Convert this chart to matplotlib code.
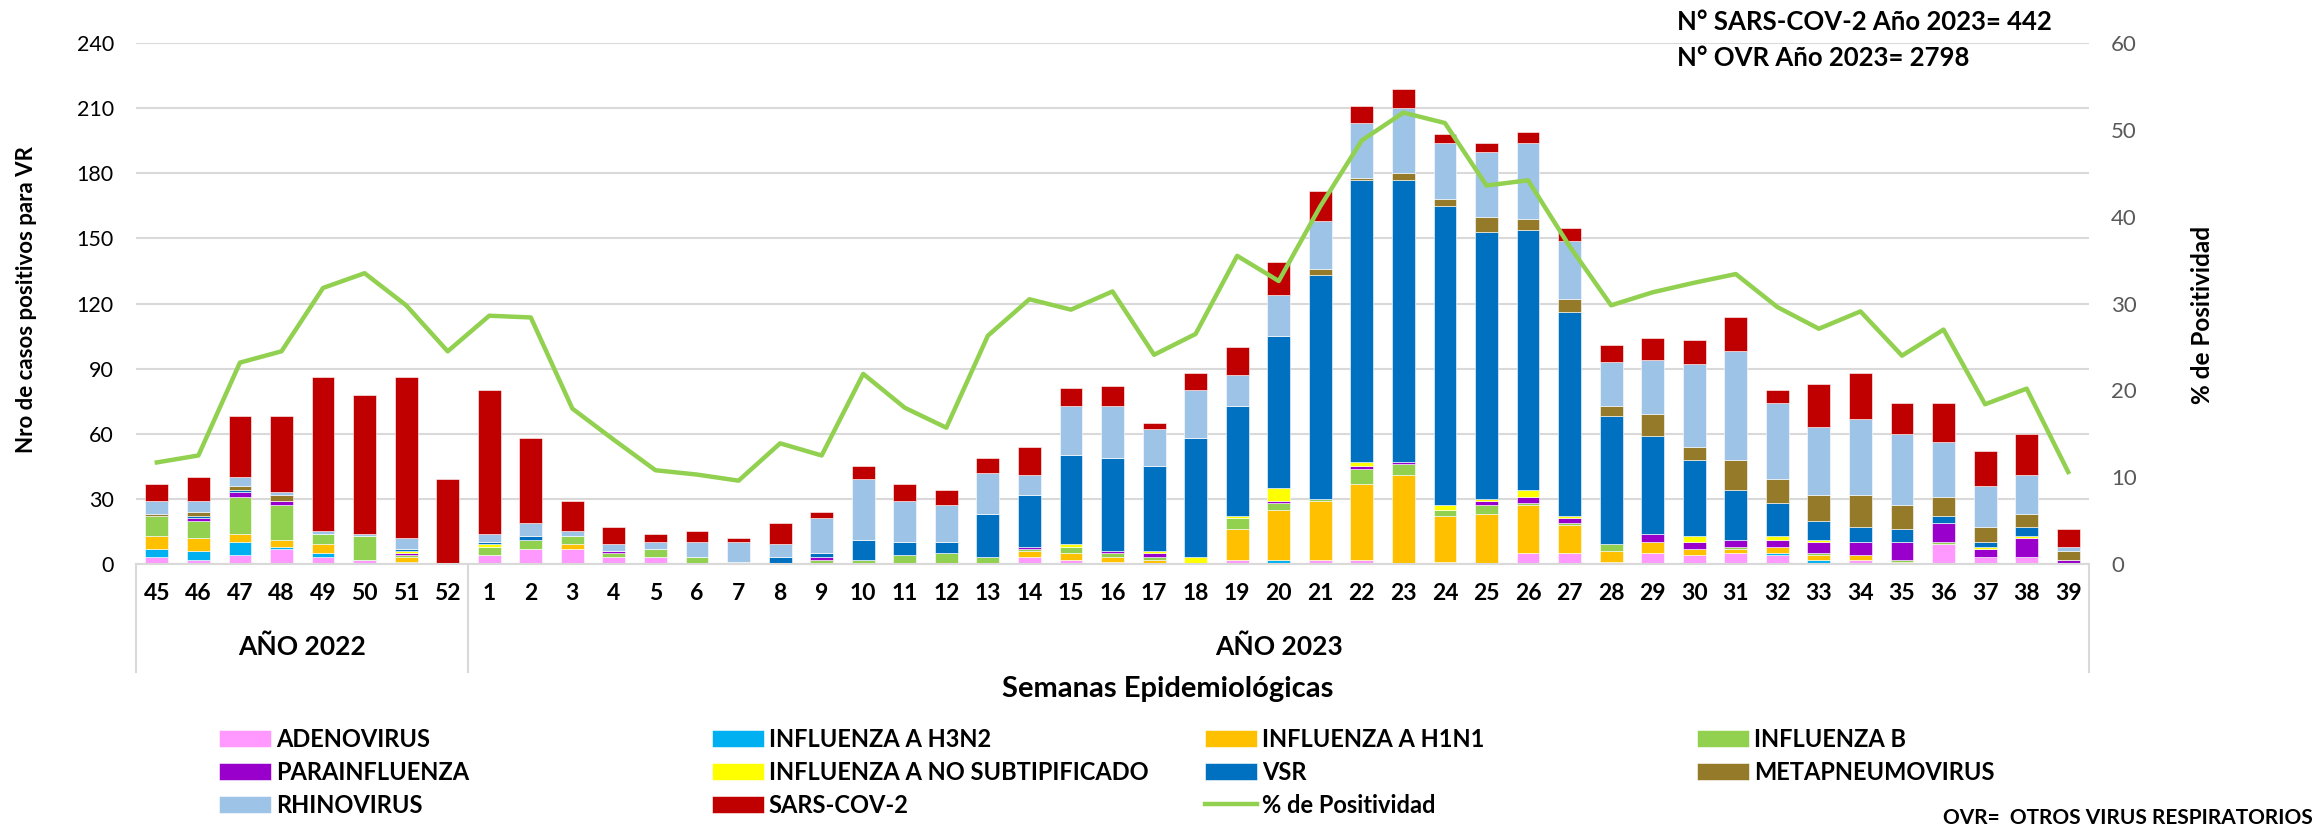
import numpy as np
import matplotlib
matplotlib.use('Agg')
import matplotlib.pyplot as plt
import matplotlib.transforms as mtransforms

plt.rcParams['font.family'] = ['Lato', 'DejaVu Sans']

# Semanas epidemiologicas: 45-52 del 2022 y 1-39 del 2023
weeks = ['45', '46', '47', '48', '49', '50', '51', '52'] + [str(w) for w in range(1, 40)]

# casos por virus (orden de apilado, de abajo hacia arriba)
adenovirus = [3, 2, 4, 7, 3, 2, 0, 0,
              4, 7, 7, 3, 3, 0, 0, 0, 0, 0, 0, 0, 0, 3, 2, 1, 0, 0,
              2, 0, 2, 2, 0, 1, 0, 5, 5, 1, 5, 4, 5, 4, 0, 2, 0, 9, 3, 3, 0]
h3n2 = [4, 4, 6, 1, 2, 0, 1, 0,
        0, 0, 0, 0, 0, 0, 0, 0, 0, 0, 0, 0, 0, 0, 0, 0, 0, 0,
        0, 2, 0, 0, 0, 0, 0, 0, 0, 0, 0, 0, 0, 1, 2, 0, 0, 0, 0, 0, 0]
h1n1 = [6, 6, 4, 3, 4, 0, 2, 0,
        0, 0, 2, 0, 0, 0, 0, 0, 0, 0, 0, 0, 0, 3, 3, 2, 2, 0,
        14, 23, 27, 35, 41, 21, 23, 22, 13, 5, 5, 3, 2, 3, 2, 2, 1, 0, 0, 0, 0]
influenza_b = [9, 8, 17, 16, 5, 11, 1, 0,
               4, 4, 4, 2, 4, 3, 1, 0, 2, 2, 4, 5, 3, 1, 3, 2, 1, 0,
               5, 3, 1, 7, 5, 3, 4, 1, 1, 3, 0, 0, 1, 0, 1, 0, 1, 1, 0, 0, 0]
parainfluenza = [0, 1, 2, 2, 0, 0, 1, 0,
                 0, 0, 0, 1, 0, 0, 0, 0, 1, 0, 0, 0, 0, 1, 0, 1, 2, 0,
                 0, 1, 0, 1, 1, 0, 2, 3, 2, 0, 4, 3, 3, 3, 5, 6, 8, 9, 4, 9, 2]
no_subtip = [0, 0, 0, 0, 0, 0, 1, 0,
             1, 0, 0, 0, 0, 0, 0, 0, 0, 0, 0, 0, 0, 0, 1, 0, 1, 3,
             1, 6, 0, 2, 0, 2, 1, 3, 1, 0, 0, 3, 0, 2, 1, 0, 0, 0, 1, 1, 0]
vsr = [0, 1, 1, 0, 0, 0, 1, 0,
       1, 2, 0, 0, 0, 0, 0, 3, 2, 9, 6, 5, 20, 24, 41, 43, 39, 55,
       51, 70, 103, 130, 130, 138, 123, 120, 94, 59, 45, 35, 23, 15, 9, 7, 6, 3, 2, 4, 0]
metapneumo = [1, 2, 2, 3, 0, 0, 0, 0,
              0, 0, 0, 0, 0, 0, 0, 0, 0, 0, 0, 0, 0, 0, 0, 0, 0, 0,
              0, 0, 3, 1, 3, 3, 7, 5, 6, 5, 10, 6, 14, 11, 12, 15, 11, 9, 7, 6, 4]
rhinovirus = [6, 5, 4, 1, 1, 1, 5, 0,
              4, 6, 2, 3, 3, 7, 9, 6, 16, 28, 19, 17, 19, 9, 23, 24, 17, 22,
              14, 19, 22, 25, 30, 26, 30, 35, 27, 20, 25, 38, 50, 35, 31, 35, 33, 25, 19, 18, 2]
sars_cov2 = [8, 11, 28, 35, 71, 64, 74, 39,
             66, 39, 14, 8, 4, 5, 2, 10, 3, 6, 8, 7, 7, 13, 8, 9, 3, 8,
             13, 15, 14, 8, 9, 4, 4, 5, 6, 8, 10, 11, 16, 6, 20, 21, 14, 18, 16, 19, 8]

# % de positividad (eje derecho)
positividad = [11.7, 12.5, 23.2, 24.5, 31.8, 33.5, 29.8, 24.5,
               28.6, 28.4, 17.9, 14.3, 10.8, 10.3, 9.6, 13.9, 12.5, 21.9, 18.0, 15.7, 26.3, 30.5, 29.3, 31.4, 24.1, 26.5,
               35.5, 32.6, 41.2, 48.8, 52.0, 50.8, 43.6, 44.2, 36.6, 29.8, 31.3, 32.4, 33.4, 29.6, 27.1, 29.1, 24.0, 27.0, 18.4, 20.2, 10.6]

series = [
    ('ADENOVIRUS', adenovirus, '#FF99FF'),
    ('INFLUENZA A H3N2', h3n2, '#00B0F0'),
    ('INFLUENZA A H1N1', h1n1, '#FFC000'),
    ('INFLUENZA B', influenza_b, '#92D050'),
    ('PARAINFLUENZA', parainfluenza, '#9900CC'),
    ('INFLUENZA A NO SUBTIPIFICADO', no_subtip, '#FFFF00'),
    ('VSR', vsr, '#0070C0'),
    ('METAPNEUMOVIRUS', metapneumo, '#957A2A'),
    ('RHINOVIRUS', rhinovirus, '#9DC3E6'),
    ('SARS-COV-2', sars_cov2, '#C00000'),
]

fig = plt.figure(figsize=(23.18, 8.30), dpi=100)
ax = fig.add_axes([0.0587, 0.3205, 0.8425, 0.6275])

x = np.arange(len(weeks))
bottom = np.zeros(len(weeks))
handles = {}
for name, vals, color in series:
    bars = ax.bar(x, vals, 0.55, bottom=bottom, color=color, edgecolor='white',
                  linewidth=0.4, label=name, zorder=2)
    handles[name] = bars
    bottom += np.array(vals)

ax.set_xlim(-0.5, len(weeks) - 0.5)
ax.set_ylim(0, 240)
ax.set_yticks(range(0, 241, 30))
ax.yaxis.grid(True, color='#d9d9d9', linewidth=1.5, zorder=0)
ax.set_axisbelow(True)
for s in ['left', 'top', 'right']:
    ax.spines[s].set_visible(False)
ax.spines['bottom'].set_color('#d9d9d9')
ax.spines['bottom'].set_linewidth(1.5)
ax.tick_params(axis='y', length=0, labelsize=15.5, pad=16, labelcolor='black')
ax.set_xticks(x)
ax.set_xticklabels(weeks)
ax.tick_params(axis='x', length=0, labelsize=16.5, pad=14)
for lbl in ax.get_xticklabels():
    lbl.set_fontweight('bold')

# lineas que separan los años y etiquetas de año
trans = mtransforms.blended_transform_factory(ax.transData, ax.transAxes)
for xv in [-0.5, 7.5, len(weeks) - 0.5]:
    ax.plot([xv, xv], [0, -0.207], transform=trans, color='#d9d9d9', lw=1.5, clip_on=False)
ax.text(3.5, -0.159, 'AÑO 2022', transform=trans, ha='center', va='center',
        fontsize=19, fontweight='bold')
ax.text(27, -0.159, 'AÑO 2023', transform=trans, ha='center', va='center',
        fontsize=19, fontweight='bold')

# eje derecho: % de positividad
ax2 = ax.twinx()
line, = ax2.plot(x, positividad, color='#92D050', lw=3.2, label='% de Positividad', zorder=3)
ax2.set_ylim(0, 60)
ax2.set_yticks(range(0, 61, 10))
ax2.tick_params(axis='y', length=0, labelsize=16, pad=16, labelcolor='#595959')
for s in ax2.spines.values():
    s.set_visible(False)

fig.text(27 / 2318, 1 - 300 / 830, 'Nro de casos positivos para VR', rotation=90,
         ha='center', va='center', fontsize=16, fontweight='bold')
fig.text(2202 / 2318, 1 - 315 / 830, '% de Positividad', rotation=90,
         ha='center', va='center', fontsize=17.5, fontweight='bold')
fig.text(1168 / 2318, 1 - 689 / 830, 'Semanas Epidemiológicas',
         ha='center', va='center', fontsize=21, fontweight='bold')

fig.text(1677 / 2318, 1 - 22 / 830, 'N° SARS-COV-2 Año 2023= 442',
         ha='left', va='center', fontsize=18.5, fontweight='bold')
fig.text(1677 / 2318, 1 - 58 / 830, 'N° OVR Año 2023= 2798',
         ha='left', va='center', fontsize=18.5, fontweight='bold')
fig.text(2313 / 2318, 1 - 818 / 830, 'OVR=  OTROS VIRUS RESPIRATORIOS',
         ha='right', va='center', fontsize=15, fontweight='bold')

# leyenda en 4 columnas, una leyenda por columna para fijar la posicion
columns = [
    ['ADENOVIRUS', 'PARAINFLUENZA', 'RHINOVIRUS'],
    ['INFLUENZA A H3N2', 'INFLUENZA A NO SUBTIPIFICADO', 'SARS-COV-2'],
    ['INFLUENZA A H1N1', 'VSR', '% de Positividad'],
    ['INFLUENZA B', 'METAPNEUMOVIRUS'],
]
col_x = [219, 712, 1205, 1697]
for names, cx in zip(columns, col_x):
    hs = [line if n == '% de Positividad' else handles[n] for n in names]
    leg = fig.legend(hs, names, loc='upper left', bbox_to_anchor=(cx / 2318, 1 - 728 / 830),
                     frameon=False, fontsize=17, handlelength=2.2, handleheight=0.75,
                     handletextpad=0.2, labelspacing=0.42, borderpad=0, borderaxespad=0)
    for t in leg.get_texts():
        t.set_fontweight('bold')

fig.savefig('out.png', dpi=100)
